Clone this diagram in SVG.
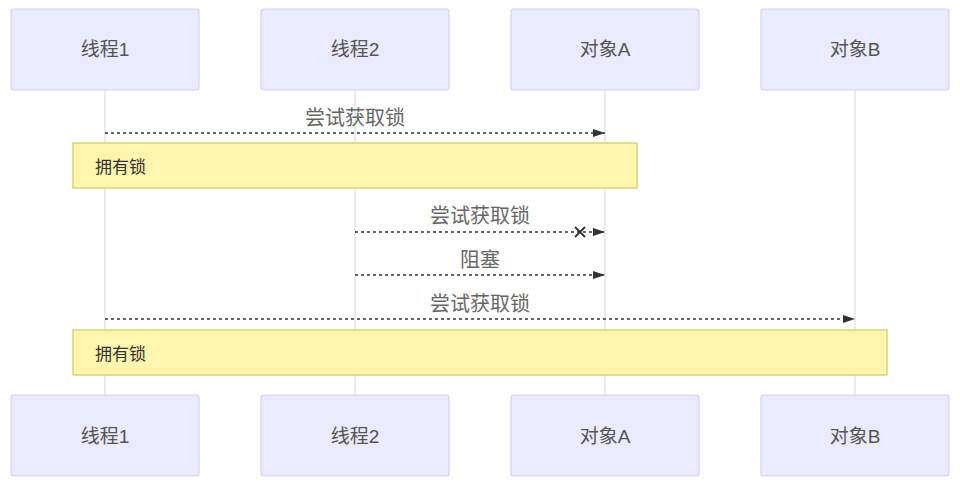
<svg xmlns="http://www.w3.org/2000/svg" width="960" height="484" viewBox="0 0 960 484">
<defs>
<marker id="arrow" viewBox="0 0 12 10" refX="12" refY="5" markerWidth="12" markerHeight="10" markerUnits="userSpaceOnUse" orient="auto">
<path d="M0,1 L12,5 L0,9 z" fill="#333"/>
</marker>
</defs>
<style>
.actor{fill:#eceafe;stroke:#d4d0f5;stroke-width:1.2}
.actor-text{font-family:"Liberation Sans","Noto Sans CJK SC",sans-serif;font-size:19px;fill:#555;text-anchor:middle;dominant-baseline:central}
.life{stroke:#dddddd;stroke-width:1.2}
.msg{stroke:#333;stroke-width:1.5;stroke-dasharray:3,3;fill:none}
.msg-text{font-family:"Liberation Sans","Noto Sans CJK SC",sans-serif;font-size:20px;fill:#666;text-anchor:middle}
.note{fill:#fff5ad;stroke:#cccc66;stroke-width:1.2}
.note-text{font-family:"Liberation Sans","Noto Sans CJK SC",sans-serif;font-size:17px;fill:#333;dominant-baseline:central}
</style>
<rect width="960" height="484" fill="#ffffff"/>
<g id="lifelines">
<line class="life" x1="105" y1="90" x2="105" y2="395"/>
<line class="life" x1="355" y1="90" x2="355" y2="395"/>
<line class="life" x1="605" y1="90" x2="605" y2="395"/>
<line class="life" x1="855" y1="90" x2="855" y2="395"/>
</g>
<g id="actor-t1-top"><rect class="actor" x="11" y="9" width="188" height="81" rx="3"/><text class="actor-text" x="105" y="49">线程1</text></g>
<g id="actor-t2-top"><rect class="actor" x="261" y="9" width="188" height="81" rx="3"/><text class="actor-text" x="355" y="49">线程2</text></g>
<g id="actor-a-top"><rect class="actor" x="511" y="9" width="188" height="81" rx="3"/><text class="actor-text" x="605" y="49">对象A</text></g>
<g id="actor-b-top"><rect class="actor" x="761" y="9" width="188" height="81" rx="3"/><text class="actor-text" x="855" y="49">对象B</text></g>
<g id="actor-t1-bottom"><rect class="actor" x="11" y="395" width="188" height="81" rx="3"/><text class="actor-text" x="105" y="436">线程1</text></g>
<g id="actor-t2-bottom"><rect class="actor" x="261" y="395" width="188" height="81" rx="3"/><text class="actor-text" x="355" y="436">线程2</text></g>
<g id="actor-a-bottom"><rect class="actor" x="511" y="395" width="188" height="81" rx="3"/><text class="actor-text" x="605" y="436">对象A</text></g>
<g id="actor-b-bottom"><rect class="actor" x="761" y="395" width="188" height="81" rx="3"/><text class="actor-text" x="855" y="436">对象B</text></g>
<g id="note1"><rect class="note" x="73" y="143" width="564" height="45"/><text class="note-text" x="95" y="167">拥有锁</text></g>
<g id="note2"><rect class="note" x="73" y="330" width="814" height="45"/><text class="note-text" x="95" y="354">拥有锁</text></g>
<g id="connectors">
<line class="msg" x1="105" y1="133" x2="605" y2="133" marker-end="url(#arrow)"/>
<text class="msg-text" x="355" y="125">尝试获取锁</text>
<line class="msg" x1="355" y1="232" x2="605" y2="232" marker-end="url(#arrow)"/>
<path d="M575,227 L585,237 M585,227 L575,237" stroke="#333" stroke-width="1.8" fill="none"/>
<text class="msg-text" x="480" y="223">尝试获取锁</text>
<line class="msg" x1="355" y1="275" x2="605" y2="275" marker-end="url(#arrow)"/>
<text class="msg-text" x="480" y="267">阻塞</text>
<line class="msg" x1="105" y1="319" x2="855" y2="319" marker-end="url(#arrow)"/>
<text class="msg-text" x="480" y="311">尝试获取锁</text>
</g>
</svg>
